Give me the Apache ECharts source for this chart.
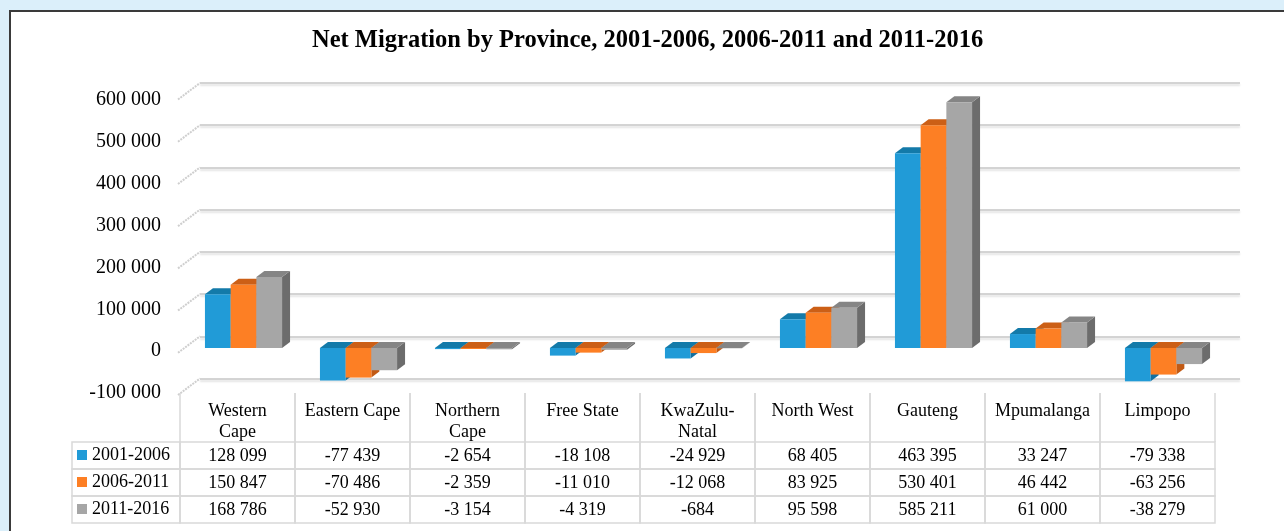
<!DOCTYPE html>
<html>
<head>
<meta charset="utf-8">
<title>Net Migration by Province</title>
<script src="https://cdn.jsdelivr.net/npm/echarts/dist/echarts.min.js"></script>
<style>
    html, body { margin: 0; padding: 0; }
    body { width: 1284px; height: 531px; background: #dbeffa; position: relative; overflow: hidden; }
    .panel { position: absolute; left: 9px; top: 10px; right: 0; bottom: 0; background: #fff;
             border-left: 2px solid #3a3a3a; border-top: 2px solid #3a3a3a; }
    #chart { position: absolute; left: 0; top: 0; width: 1284px; height: 531px; }
</style>
</head>
<body>
<div class="panel"></div>
<div id="chart"></div>
<script>
var categories = ['Western\nCape', 'Eastern Cape', 'Northern\nCape', 'Free State', 'KwaZulu-\nNatal',
                  'North West', 'Gauteng', 'Mpumalanga', 'Limpopo'];
var periods = ['2001-2006', '2006-2011', '2011-2016'];
var values2001 = [128099, -77439, -2654, -18108, -24929, 68405, 463395, 33247, -79338];
var values2006 = [150847, -70486, -2359, -11010, -12068, 83925, 530401, 46442, -63256];
var values2011 = [168786, -52930, -3154, -4319, -684, 95598, 585211, 61000, -38279];
var yTicks = [-100000, 0, 100000, 200000, 300000, 400000, 500000, 600000];

var seriesValues = [values2001, values2006, values2011];
// front / top / side colours for each period
var faceColors = [
    ['#219bd7', '#137aa9', '#1270a0'],
    ['#fd7f24', '#cc5f16', '#c25a14'],
    ['#a6a6a6', '#858585', '#6c6c6c']
];
var FONT = '"Liberation Serif", "Times New Roman", serif';
var DEPTH_X = 8, DEPTH_Y = 6;     // bar depth
var WALL_X = 22, WALL_Y = 16.5;   // side wall depth
var HEAD_TOP = 393, ROW_TOP = 442, ROW_H = 27, LEGEND_LEFT = 72;

function fmt(v) {
    var s = String(Math.abs(v)).replace(/\B(?=(\d{3})+(?!\d))/g, ' ');
    return (v < 0 ? '-' : '') + s;
}

var chart = echarts.init(document.getElementById('chart'), null, { renderer: 'canvas' });

// 3d looking column: front face, top face and right side
function barRenderer(k) {
    return function (params, api) {
        var i = api.value(0), v = api.value(1);
        var base = api.coord([i, 0]);
        var tip = api.coord([i, v]);
        var band = api.size([1, 0])[0];
        var bw = band * 0.2235;
        var x0 = base[0] - 1.5 * bw + k * bw, x1 = x0 + bw;
        var yTop = Math.min(base[1], tip[1]), yBot = Math.max(base[1], tip[1]);
        var c = faceColors[k];
        return {
            type: 'group',
            children: [
                { type: 'polygon', shape: { points: [[x1, yTop], [x1 + DEPTH_X, yTop - DEPTH_Y], [x1 + DEPTH_X, yBot - DEPTH_Y], [x1, yBot]] },
                  style: { fill: c[2] } },
                { type: 'polygon', shape: { points: [[x0, yTop], [x1, yTop], [x1 + DEPTH_X, yTop - DEPTH_Y], [x0 + DEPTH_X, yTop - DEPTH_Y]] },
                  style: { fill: c[1] } },
                { type: 'rect', shape: { x: x0, y: yTop, width: bw, height: yBot - yTop },
                  style: { fill: c[0] } }
            ]
        };
    };
}

// data table under the plot, one column per province
function tableRenderer(params, api) {
    var i = api.value(0);
    var c = api.coord([i, 0]);
    var band = api.size([1, 0])[0];
    var x0 = c[0] - band / 2;
    var line = { stroke: '#d9d9d9', lineWidth: 1.5 };
    var kids = [
        { type: 'line', shape: { x1: x0, y1: HEAD_TOP, x2: x0, y2: ROW_TOP }, style: line },
        { type: 'line', shape: { x1: x0 + band, y1: HEAD_TOP, x2: x0 + band, y2: ROW_TOP }, style: line },
        { type: 'text', x: c[0], y: HEAD_TOP + 8,
          style: { text: categories[i], fontFamily: FONT, fontSize: 18, lineHeight: 21, fill: '#000',
                   align: 'center', verticalAlign: 'top' } }
    ];
    for (var r = 0; r < seriesValues.length; r++) {
        var y = ROW_TOP + r * ROW_H;
        kids.push({ type: 'rect', shape: { x: x0, y: y, width: band, height: ROW_H }, style: { fill: null, stroke: '#d9d9d9', lineWidth: 1.5 } });
        if (i === 0) {
            kids.push({ type: 'rect', shape: { x: LEGEND_LEFT, y: y, width: x0 - LEGEND_LEFT, height: ROW_H }, style: { fill: null, stroke: '#d9d9d9', lineWidth: 1.5 } });
        }
        kids.push({ type: 'text', x: c[0], y: y + ROW_H / 2 + 1,
                    style: { text: fmt(seriesValues[r][i]), fontFamily: FONT, fontSize: 18, fill: '#000',
                             align: 'center', verticalAlign: 'middle' } });
    }
    return { type: 'group', children: kids };
}

// diagonal grid lines on the left side wall
function wallRenderer(params, api) {
    var p = api.coord([0, api.value(0)]);
    return {
        type: 'line',
        shape: { x1: p[0] - WALL_X, y1: p[1] + WALL_Y, x2: p[0], y2: p[1] },
        style: { stroke: '#cfcfcf', lineWidth: 2, lineDash: [2, 1] }
    };
}

var yRange = { min: -100000, max: 600000, interval: 100000 };

var series = [
    { type: 'custom', name: 'wall', xAxisIndex: 0, yAxisIndex: 0, silent: true,
      data: yTicks.map(function (t) { return [t]; }), renderItem: wallRenderer, encode: { y: 0 } },
    { type: 'custom', name: 'table', xAxisIndex: 1, yAxisIndex: 1, silent: true, clip: false,
      data: categories.map(function (c, i) { return [i]; }), renderItem: tableRenderer, encode: { x: 0 } }
];
periods.forEach(function (p, k) {
    series.push({
        type: 'custom', name: p, xAxisIndex: 2, yAxisIndex: 2, clip: false,
        itemStyle: { color: faceColors[k][0] },
        data: seriesValues[k].map(function (v, i) { return [i, v]; }),
        encode: { x: 0, y: 1 },
        renderItem: barRenderer(k)
    });
});

var option = {
    animation: false,
    title: {
        text: 'Net Migration by Province, 2001-2006, 2006-2011 and 2011-2016',
        left: 307, top: 23,
        textStyle: { fontFamily: FONT, fontSize: 24.5, fontWeight: 'bold', color: '#000' }
    },
    legend: {
        orient: 'vertical', left: 77, top: 446, padding: 0, itemWidth: 10, itemHeight: 10, itemGap: 9,
        icon: 'rect', selectedMode: false, data: periods,
        textStyle: { fontFamily: FONT, fontSize: 18, lineHeight: 18, color: '#000' }
    },
    grid: [
        { left: 200, right: 44, top: 83, height: 295.5 },   // back wall
        { left: 180, right: 69, top: 100, height: 293 },    // front, axis labels + table
        { left: 186, right: 63, top: 96, height: 294 }      // columns
    ],
    xAxis: [
        { gridIndex: 0, type: 'value', min: 0, max: 1, show: false },
        { gridIndex: 1, type: 'category', data: categories, show: false },
        { gridIndex: 2, type: 'category', data: categories, show: false }
    ],
    yAxis: [
        Object.assign({ gridIndex: 0, type: 'value', axisLabel: { show: false }, axisLine: { show: false }, axisTick: { show: false },
          splitLine: { lineStyle: { color: '#c6c6c6', width: 1.5, shadowColor: 'rgba(0,0,0,0.15)', shadowBlur: 2, shadowOffsetY: 2 } } }, yRange),
        Object.assign({ gridIndex: 1, type: 'value', axisLine: { show: false }, axisTick: { show: false }, splitLine: { show: false },
          axisLabel: { margin: 19, fontFamily: FONT, fontSize: 20, color: '#000', formatter: fmt } }, yRange),
        Object.assign({ gridIndex: 2, type: 'value', show: false, splitLine: { show: false } }, yRange)
    ],
    series: series
};

chart.setOption(option);
</script>
</body>
</html>
